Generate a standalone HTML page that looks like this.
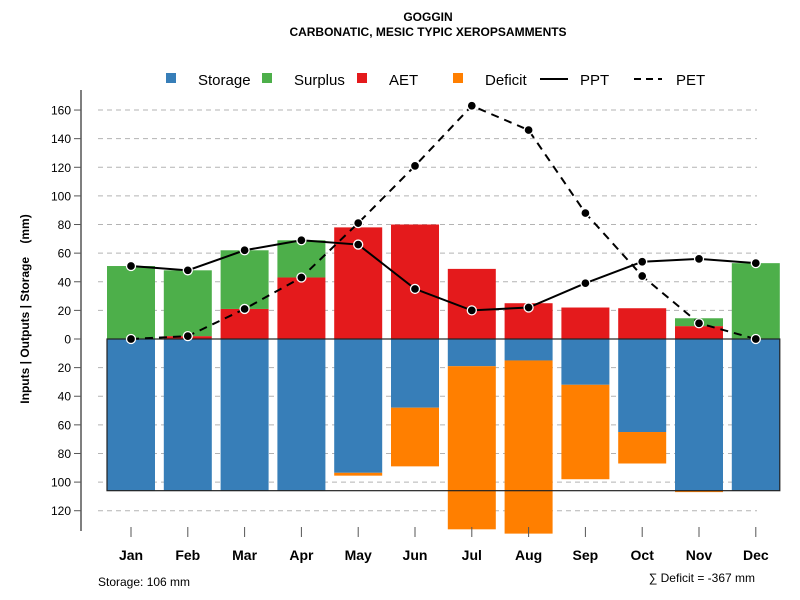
<!DOCTYPE html>
<html><head><meta charset="utf-8"><style>
body{margin:0;background:#fff}
svg{display:block;font-family:"Liberation Sans",Arial,sans-serif}
</style></head><body>
<svg id="chart" width="800" height="600" viewBox="0 0 800 600" xmlns="http://www.w3.org/2000/svg">
<text x="428" y="21" text-anchor="middle" font-size="12" font-weight="bold">GOGGIN</text>
<text x="428" y="36" text-anchor="middle" font-size="12" font-weight="bold">CARBONATIC, MESIC TYPIC XEROPSAMMENTS</text>
<g id="grid"></g>
<g id="bars"></g>
<g id="lines"></g>
<g id="axes"></g>
<g font-size="15">
<rect x="166" y="73" width="10" height="10" fill="#377eb8"/>
<text x="198" y="85">Storage</text>
<rect x="262" y="73" width="10" height="10" fill="#4daf4a"/>
<text x="294" y="85">Surplus</text>
<rect x="357" y="73" width="10" height="10" fill="#e41a1c"/>
<text x="389" y="85">AET</text>
<rect x="453" y="73" width="10" height="10" fill="#ff7f00"/>
<text x="485" y="85">Deficit</text>
<line x1="540" y1="79" x2="568" y2="79" stroke="#000" stroke-width="2"/>
<text x="580" y="85">PPT</text>
<line x1="634" y1="79" x2="662" y2="79" stroke="#000" stroke-width="2" stroke-dasharray="7,5"/>
<text x="676" y="85">PET</text>
</g>
<text transform="translate(29,309) rotate(-90)" text-anchor="middle" font-size="12" font-weight="bold" xml:space="preserve">Inputs | Outputs | Storage    (mm)</text>
<text x="98" y="586" font-size="12">Storage: 106 mm</text>
<text x="755" y="582" text-anchor="end" font-size="12">∑ Deficit = -367 mm</text>
</svg>
<script>
const months=["Jan","Feb","Mar","Apr","May","Jun","Jul","Aug","Sep","Oct","Nov","Dec"];
const storage=[106,106,106,106,93.5,48,19,15,32,65,106,106];
const deficit=[0,0,0,0,2,41,114,121,66,22,1,0];
const aet=[0,2,21,43,78,80,49,25,22,21.5,9,0];
const surplus=[51,46,41,26,0,0,0,0,0,0,5.5,53];
const ppt=[51,48,62,69,66,35,20,22,39,54,56,53];
const pet=[0,2,21,43,81,121,163,146,88,44,11,0];
const posTicks=[0,20,40,60,80,100,120,140,160];
const negTicks=[20,40,60,80,100,120];
const awc=106;

const NS="http://www.w3.org/2000/svg";
const y=v=>339-v*1.431;
const x=i=>131+i*56.8;
const BW=48;
function mk(tag,attrs,parent){const e=document.createElementNS(NS,tag);for(const k in attrs)e.setAttribute(k,attrs[k]);parent.appendChild(e);return e;}
const grid=document.getElementById('grid'),bars=document.getElementById('bars'),lines=document.getElementById('lines'),axes=document.getElementById('axes');

posTicks.concat(negTicks.map(v=>-v)).forEach(v=>{
 if(v===0)return;
 const g=mk('line',{x1:98,x2:757,y1:y(v),y2:y(v),stroke:'#b3b3b3','stroke-dasharray':'5,4'},grid);
 
 
});

months.forEach((m,i)=>{
 const cx=x(i),l=cx-BW/2;
 let r=mk('rect',{x:l,y:y(0),width:BW,height:y(-storage[i])-y(0),fill:'#377eb8'},bars);
 
 
 if(deficit[i]>0){
  r=mk('rect',{x:l,y:y(-storage[i]),width:BW,height:y(-storage[i]-deficit[i])-y(-storage[i]),fill:'#ff7f00'},bars);
  
  
 }
 if(aet[i]>0){
  r=mk('rect',{x:l,y:y(aet[i]),width:BW,height:y(0)-y(aet[i]),fill:'#e41a1c'},bars);
  
  
 }
 if(surplus[i]>0){
  r=mk('rect',{x:l,y:y(aet[i]+surplus[i]),width:BW,height:y(aet[i])-y(aet[i]+surplus[i]),fill:'#4daf4a'},bars);
  
  
 }
});
let box=mk('rect',{x:x(0)-BW/2,y:y(0),width:x(11)-x(0)+BW,height:y(-awc)-y(0),fill:'none',stroke:'#222','stroke-width':1.2},bars);



function series(arr,name,dash){
 const p=mk('polyline',{points:arr.map((v,i)=>x(i)+','+y(v)).join(' '),fill:'none',stroke:'#000','stroke-width':2},lines);
 if(dash)p.setAttribute('stroke-dasharray','8,6');
 
 
 arr.forEach((v,i)=>{
  const c=mk('circle',{cx:x(i),cy:y(v),r:4.5,fill:'#000',stroke:'#fff','stroke-width':1.3},lines);
  
  
 });
}
series(pet,'pet',true);
series(ppt,'ppt',false);

let ax=mk('line',{x1:81,x2:81,y1:90,y2:531,stroke:'#555','stroke-width':1.5},axes);


posTicks.map(v=>[v,v]).concat(negTicks.map(v=>[-v,v])).forEach(([v,lab])=>{
 const t=mk('line',{x1:74,x2:81,y1:y(v),y2:y(v),stroke:'#555'},axes);
 
 
 const tx=mk('text',{x:71,y:y(v)+4.5,'text-anchor':'end','font-size':12},axes);
 tx.textContent=lab;
 
 
});
months.forEach((m,i)=>{
 const t=mk('line',{x1:x(i),x2:x(i),y1:527,y2:537,stroke:'#555'},axes);
 
 
 const tx=mk('text',{x:x(i),y:560,'text-anchor':'middle','font-size':14,'font-weight':'bold'},axes);
 tx.textContent=m;
 
 
});
</script>
</body></html>
